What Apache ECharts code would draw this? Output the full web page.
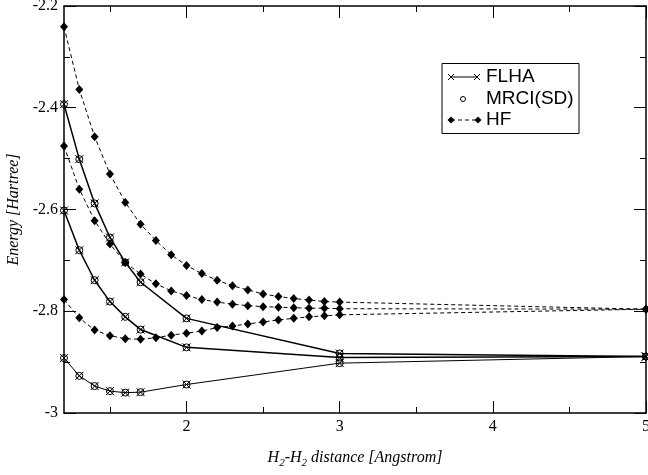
<!DOCTYPE html>
<html>
<head>
<meta charset="utf-8">
<script src="https://cdn.jsdelivr.net/npm/echarts@6/dist/echarts.min.js"></script>
<style>
  html, body { margin: 0; padding: 0; background: #fff; }
  #main { width: 648px; height: 475px; }
</style>
</head>
<body>
<div id="main"></div>
<script>
// distances (Angstrom)
var xFLHA = [1.2, 1.3, 1.4, 1.5, 1.6, 1.7, 2.0, 3.0, 5.0];
var xHF = [1.2, 1.3, 1.4, 1.5, 1.6, 1.7, 1.8, 1.9, 2.0, 2.1, 2.2, 2.3, 2.4, 2.5, 2.6, 2.7, 2.8, 2.9, 3.0, 5.0];

// FLHA energies (Hartree), three curves
var flha1 = [-2.393, -2.501, -2.588, -2.655, -2.704, -2.743, -2.814, -2.883, -2.889];
var flha2 = [-2.602, -2.680, -2.739, -2.781, -2.811, -2.836, -2.871, -2.891, -2.889];
var flha3 = [-2.892, -2.927, -2.947, -2.957, -2.960, -2.959, -2.944, -2.902, -2.889];

// MRCI(SD) sits on top of FLHA
var mrci1 = [-2.393, -2.501, -2.588, -2.655, -2.704, -2.743, -2.814, -2.883, -2.889];
var mrci2 = [-2.602, -2.680, -2.739, -2.781, -2.811, -2.836, -2.871, -2.891, -2.889];
var mrci3 = [-2.892, -2.927, -2.947, -2.957, -2.960, -2.959, -2.944, -2.902, -2.889];

// HF energies
var hf1 = [-2.241, -2.364, -2.457, -2.530, -2.586, -2.629, -2.661, -2.689, -2.710, -2.726,
  -2.739, -2.750, -2.758, -2.766, -2.771, -2.775, -2.778, -2.781, -2.782, -2.796];
var hf2 = [-2.475, -2.560, -2.622, -2.668, -2.704, -2.727, -2.746, -2.760, -2.769, -2.777,
  -2.782, -2.786, -2.789, -2.791, -2.792, -2.793, -2.794, -2.794, -2.795, -2.796];
var hf3 = [-2.777, -2.813, -2.837, -2.848, -2.854, -2.855, -2.852, -2.847, -2.843, -2.839,
  -2.832, -2.829, -2.825, -2.821, -2.817, -2.814, -2.811, -2.809, -2.807, -2.796];

var xMajorTicks = [2, 3, 4, 5];
var xMinorTicks = [1.5, 2.5, 3.5, 4.5];

function pairs(xs, ys) {
  return xs.map(function (x, i) { return [x, ys[i]]; });
}

var serif = 'Liberation Serif';
var crossPath = 'path://M0,0L10,10M10,0L0,10';

// FLHA: solid line, then the crosses as a separate scatter so they stroke cleanly
function flhaLine(ys, w) {
  return {
    type: 'line', data: pairs(xFLHA, ys), symbol: 'none',
    lineStyle: { color: '#000', width: w }, animation: false, z: 3
  };
}
function flhaMarks(ys) {
  return {
    type: 'scatter', data: pairs(xFLHA, ys), symbol: crossPath, symbolSize: 8,
    itemStyle: { color: 'rgba(0,0,0,0)', borderColor: '#000', borderWidth: 1, opacity: 1 },
    animation: false, z: 4
  };
}
function mrciSeries(ys) {
  return {
    type: 'scatter', data: pairs(xFLHA, ys), symbol: 'circle', symbolSize: 7,
    itemStyle: { color: 'rgba(0,0,0,0)', borderColor: '#000', borderWidth: 1, opacity: 1 },
    animation: false, z: 5
  };
}
function hfSeries(ys) {
  return {
    type: 'line', data: pairs(xHF, ys), symbol: 'diamond', symbolSize: [8, 9],
    lineStyle: { color: '#000', width: 1, type: [4, 3] },
    itemStyle: { color: '#000' },
    animation: false, z: 2
  };
}

function xAx(pos, ticks, len, withLabels, withLine) {
  return {
    type: 'value', min: 1.2, max: 5, position: pos,
    axisLine: { show: withLine, onZero: false, lineStyle: { color: '#000', width: 1.5 } },
    axisTick: { show: true, inside: true, length: len, customValues: ticks, lineStyle: { color: '#000', width: 1 } },
    axisLabel: withLabels ? { show: true, customValues: ticks, margin: 6, color: '#000', fontFamily: serif, fontSize: 16 } : { show: false },
    splitLine: { show: false }
  };
}
function yAx(pos, withLabels) {
  return {
    type: 'value', min: -3, max: -2.2, interval: 0.2, position: pos,
    axisLine: { show: true, onZero: false, lineStyle: { color: '#000', width: 1.5 } },
    axisTick: { show: true, inside: true, length: 12, lineStyle: { color: '#000', width: 1 } },
    minorTick: { show: true, splitNumber: 2, length: 6, lineStyle: { color: '#000', width: 1 } },
    axisLabel: withLabels ? {
      show: true, margin: 6, color: '#000', fontFamily: serif, fontSize: 16,
      formatter: function (v) { return v.toFixed(1).replace(/\.0$/, ''); }
    } : { show: false },
    splitLine: { show: false }
  };
}

var xAxes = [
  xAx('bottom', xMajorTicks, 12, true, true),
  xAx('bottom', xMinorTicks, 6, false, false),
  xAx('top', xMajorTicks, 12, false, true),
  xAx('top', xMinorTicks, 6, false, false)
];
xAxes[0].name = '{i|H}{s|2}{i|-H}{s|2}{i| distance [Angstrom]}';
xAxes[0].nameLocation = 'middle';
xAxes[0].nameGap = 34;
xAxes[0].nameTextStyle = {
  rich: {
    i: { fontFamily: serif, fontStyle: 'italic', fontSize: 16, color: '#000', lineHeight: 22, verticalAlign: 'middle' },
    s: { fontFamily: serif, fontStyle: 'italic', fontSize: 11, color: '#000', lineHeight: 22, verticalAlign: 'bottom', padding: [8, 0, 0, 0] }
  }
};

var yAxes = [yAx('left', true), yAx('right', false)];
yAxes[0].name = 'Energy [Hartree]';
yAxes[0].nameLocation = 'middle';
yAxes[0].nameGap = 34;
yAxes[0].nameTextStyle = { fontFamily: serif, fontStyle: 'italic', fontSize: 16, color: '#000' };

var chart = echarts.init(document.getElementById('main'));
chart.setOption({
  backgroundColor: '#fff',
  animation: false,
  grid: { left: 64, right: 2, top: 6, bottom: 62, outerBoundsMode: 'none', containLabel: false },
  xAxis: xAxes,
  yAxis: yAxes,
  series: [
    hfSeries(hf1), hfSeries(hf2), hfSeries(hf3),
    flhaLine(flha1, 1.5), flhaLine(flha2, 1.5), flhaLine(flha3, 1),
    flhaMarks(flha1), flhaMarks(flha2), flhaMarks(flha3),
    mrciSeries(mrci1), mrciSeries(mrci2), mrciSeries(mrci3)
  ],
  // legend box drawn by hand to get the line/marker samples
  graphic: [
    { type: 'rect', shape: { x: 442, y: 63.5, width: 137, height: 70 }, style: { fill: '#fff', stroke: '#000', lineWidth: 1 }, z: 10 },
    { type: 'line', shape: { x1: 451, y1: 77, x2: 477, y2: 77 }, style: { stroke: '#000', lineWidth: 1 }, z: 11 },
    { type: 'line', shape: { x1: 448, y1: 74, x2: 454, y2: 80 }, style: { stroke: '#000', lineWidth: 1 }, z: 11 },
    { type: 'line', shape: { x1: 448, y1: 80, x2: 454, y2: 74 }, style: { stroke: '#000', lineWidth: 1 }, z: 11 },
    { type: 'line', shape: { x1: 474, y1: 74, x2: 480, y2: 80 }, style: { stroke: '#000', lineWidth: 1 }, z: 11 },
    { type: 'line', shape: { x1: 474, y1: 80, x2: 480, y2: 74 }, style: { stroke: '#000', lineWidth: 1 }, z: 11 },
    { type: 'text', x: 486, y: 77, style: { text: 'FLHA', fill: '#000', font: '19px "Liberation Sans"', textVerticalAlign: 'middle' }, z: 11 },
    { type: 'circle', shape: { cx: 463, cy: 99, r: 2.5 }, style: { fill: '#fff', stroke: '#000', lineWidth: 1 }, z: 11 },
    { type: 'text', x: 486, y: 99, style: { text: 'MRCI(SD)', fill: '#000', font: '19px "Liberation Sans"', textVerticalAlign: 'middle' }, z: 11 },
    { type: 'line', shape: { x1: 451, y1: 120, x2: 478, y2: 120 }, style: { stroke: '#000', lineWidth: 1, lineDash: [4, 3] }, z: 11 },
    { type: 'polygon', shape: { points: [[451, 116.5], [454.5, 120], [451, 123.5], [447.5, 120]] }, style: { fill: '#000' }, z: 11 },
    { type: 'polygon', shape: { points: [[478, 116.5], [481.5, 120], [478, 123.5], [474.5, 120]] }, style: { fill: '#000' }, z: 11 },
    { type: 'text', x: 486, y: 120, style: { text: 'HF', fill: '#000', font: '19px "Liberation Sans"', textVerticalAlign: 'middle' }, z: 11 }
  ]
});
</script>
</body>
</html>
